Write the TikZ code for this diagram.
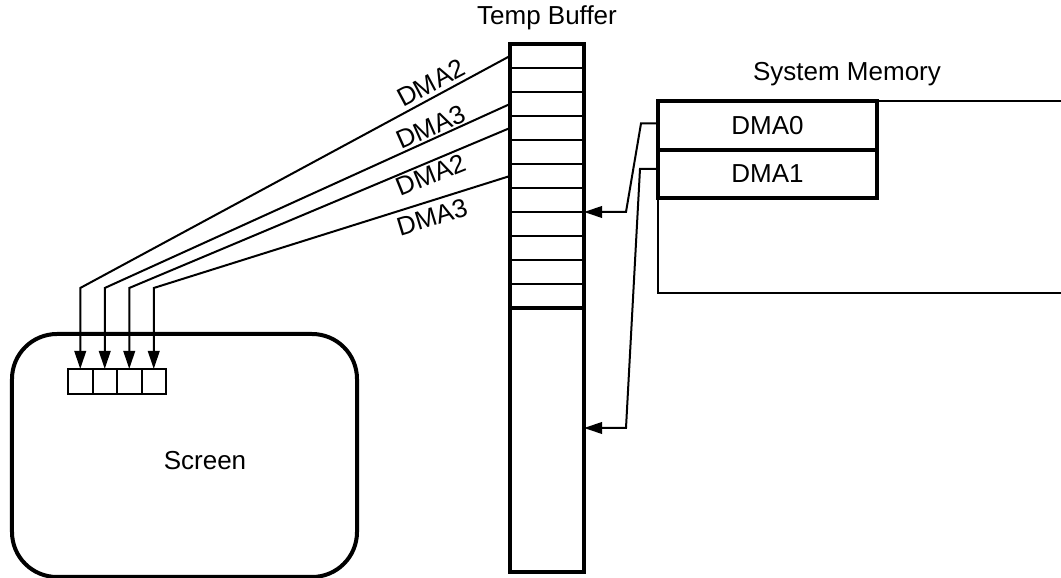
\documentclass[tikz,border=0pt]{standalone}
\usepackage{fontspec}
\setmainfont{Liberation Sans}
\usepackage{tikz}
\usetikzlibrary{arrows.meta,positioning,calc}
\tikzset{
    cell/.style={
        rectangle,
        draw,
        line width=0.8pt,
        inner sep=0pt,
        outer sep=0pt,
        minimum width=29.6pt,
        minimum height=9.6pt
    },
    tailcell/.style={cell, minimum height=105.6pt},
    slot/.style={cell, minimum width=9.8pt, minimum height=10pt},
    dmabox/.style={cell, line width=1.6pt, minimum width=87.6pt, minimum height=19.4pt},
    screenbox/.style={
        rectangle,
        draw,
        line width=1.6pt,
        rounded corners=18pt,
        minimum width=138pt,
        minimum height=97.2pt
    },
    wire/.style={line width=0.8pt},
    heavy/.style={line width=1.6pt},
    link/.style={wire, -{Triangle[length=7.2pt,width=4.6pt]}}
}

\begin{document}
\begin{tikzpicture}[x=0.4pt, y=-0.4pt, font=\fontsize{10.4}{12.5}\selectfont]
        \useasboundingbox (0,0) rectangle (1061,578);

        % temp buffer
        \node (tbtitle) at (547,18) {Temp Buffer};
        \node[cell] (c1) at (547,56) {};
        \node[cell, below=0pt of c1] (c2) {};
        \node[cell, below=0pt of c2] (c3) {};
        \node[cell, below=0pt of c3] (c4) {};
        \node[cell, below=0pt of c4] (c5) {};
        \node[cell, below=0pt of c5] (c6) {};
        \node[cell, below=0pt of c6] (c7) {};
        \node[cell, below=0pt of c7] (c8) {};
        \node[cell, below=0pt of c8] (c9) {};
        \node[cell, below=0pt of c9] (c10) {};
        \node[cell, below=0pt of c10] (c11) {};
        \node[tailcell, below=0pt of c11] (tail) {};
        \draw[heavy] (c1.north west) rectangle (tail.south east);
        \draw[heavy] (tail.north west) -- (tail.north east);

        % system memory
        \node (memtitle) at (847,74) {System Memory};
        \node[dmabox] (dma0) at (767.5,125.5) {DMA0};
        \node[dmabox, below=0pt of dma0] (dma1) {DMA1};
        \draw[wire] ($(dma0.north west)+(410,0)$) -- (dma0.north west)
            -- ++(0,192) -- ++(410,0);
        \draw[heavy] (dma0.north west) rectangle (dma1.south east);
        \draw[heavy] (dma0.south west) -- (dma0.south east);

        % screen
        \node[screenbox] (screen) at (184.5,455.5) {};
        \node (scrtxt) at (205,461) {Screen};
        \node[slot] (s1) at (80.25,381.5) {};
        \node[slot, right=0pt of s1] (s2) {};
        \node[slot, right=0pt of s2] (s3) {};
        \node[slot, right=0pt of s3] (s4) {};

        \coordinate (bendline) at (0,288);
        \coordinate (inA) at (c7.south east);
        \coordinate (inB) at (584,428);

        \draw[link] (c1.west) -- (s1.north |- bendline) -- (s1.north);
        \draw[link] (c3.west) -- (s2.north |- bendline) -- (s2.north);
        \draw[link] (c4.west) -- (s3.north |- bendline) -- (s3.north);
        \draw[link] (c6.west) -- (s4.north |- bendline) -- (s4.north);

        \node[rotate=28] (lblA) at (431,83) {DMA2};
        \node[rotate=24] (lblB) at (431,127) {DMA3};
        \node[rotate=22] (lblC) at (431,175) {DMA2};
        \node[rotate=17] (lblD) at (432,217) {DMA3};

        \draw[link] ($(dma0.west)+(0,-2)$) -- ++(-17,0) -- ($(inA)+(42,0)$) -- (inA);
        \draw[link] ($(dma1.west)+(0,-5)$) -- ++(-18,0) -- ($(inB)+(42,0)$) -- (inB);
    \end{tikzpicture}
\end{document}
